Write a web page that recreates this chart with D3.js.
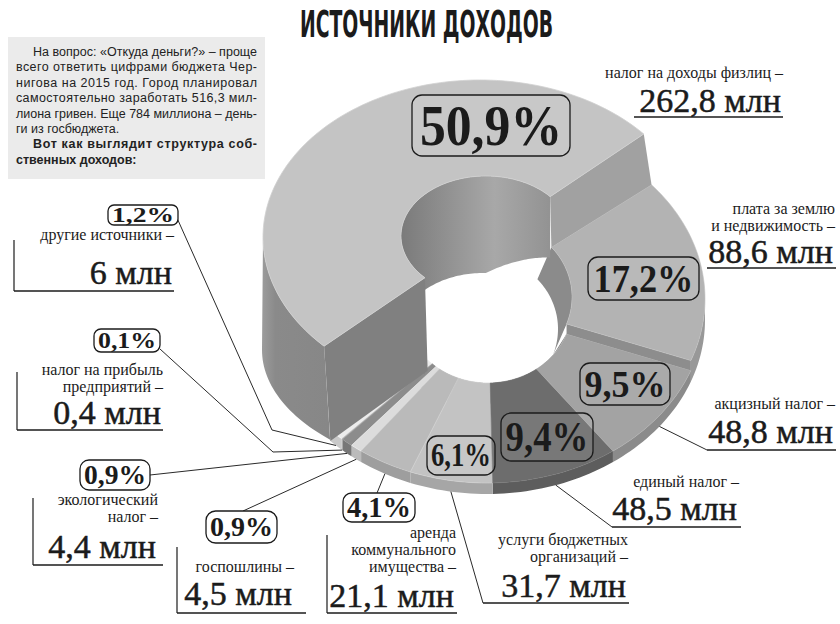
<!DOCTYPE html>
<html>
<head>
<meta charset="utf-8">
<script src="https://cdn.jsdelivr.net/npm/d3@7"></script>
<style>
  body { margin: 0; background: #fff; }
  svg { display: block; }
</style>
</head>
<body>
<svg id="chart" width="840" height="624"></svg>
<script>
// ---- data (clockwise from the upper-right cut of the ring) ----
var categories = ["плата за землю и недвижимость", "акцизный налог", "единый налог", "услуги бюджетных организаций",
    "аренда коммунального имущества", "госпошлины", "экологический налог", "налог на прибыль предприятий",
    "другие источники", "налог на доходы физлиц"];
var captionLines = [["плата за землю", "и недвижимость –"], ["акцизный налог –"], ["единый налог –"],
    ["услуги бюджетных", "организаций –"], ["аренда", "коммунального", "имущества –"], ["госпошлины –"],
    ["экологический", "налог –"], ["налог на прибыль", "предприятий –"], ["другие источники –"],
    ["налог на доходы физлиц –"]];
var revenueMln = [88.6, 48.8, 48.5, 31.7, 21.1, 4.5, 4.4, 0.4, 6, 262.8];
var sharePct = [17.2, 9.5, 9.4, 6.1, 4.1, 0.9, 0.9, 0.1, 1.2, 50.9];
var titleText = "ИСТОЧНИКИ ДОХОДОВ";
var introLines = ["На вопрос: «Откуда деньги?» – проще", "всего ответить цифрами бюджета Чер-",
    "нигова на 2015 год. Город планировал", "самостоятельно заработать 516,3 мил-",
    "лиона гривен. Еще 784 миллиона – день-", "ги из госбюджета.",
    "Вот как выглядит структура соб-", "ственных доходов:"];

// ---- styles / layout ----
var topFill = ["#b3b3b3", "#a3a3a3", "#6d6d6d", "#c3c3c3", "#bababa", "#dcdcdc", "#8c8c8c", "#b0b0b0", "#ececec", "#c4c4c4"];
var sliceLift = [10, 0, 0, 0, 0, 0, 0, 0, 0, 0];
var labelLayout = [
    {box: [588, 257, 111, 43], pct: 40, onSlice: true, right: 835, lines: [214, 231], value: 263, rule: [707, 836, 268]},
    {box: [580, 363, 90, 42], pct: 38, onSlice: true, right: 835, lines: [409], value: 443, rule: [707, 836, 450], lead: [[707, 450]]},
    {box: [501, 413, 92, 48], pct: 42, onSlice: true, right: 739, lines: [487], value: 520, rule: [612, 741, 527], lead: [[612, 527]]},
    {box: [427, 436, 68, 39], pct: 33, onSlice: true, right: 628, lines: [545, 562], value: 597, rule: [483, 629, 603], lead: [[483, 603]]},
    {box: [343, 493, 72, 29], pct: 29, right: 456, lines: [538, 555, 572], value: 607, rule: [327, 457, 613], bracket: 535, lead: [[377, 493]]},
    {box: [206, 511, 71, 32], pct: 27, right: 294, lines: [572], value: 605, rule: [177, 306, 613], bracket: 547, lead: [[243, 511]]},
    {box: [80, 460, 70, 30], pct: 27, right: 158, lines: [505, 522], value: 558, rule: [33, 163, 565], bracket: 498, lead: [[150, 475]]},
    {box: [94, 329, 66, 23], pct: 24, right: 163, lines: [375, 392], value: 424, rule: [17, 163, 430], bracket: 372, lead: [[160, 349], [273, 452]]},
    {box: [108, 205, 70, 20], pct: 21, right: 174, lines: [240], value: 284, rule: [14, 174, 291], bracket: 240, lead: [[177, 218], [272, 430]]},
    {box: [412, 95, 158, 61], pct: 58, onSlice: true, right: 783, lines: [78], value: 112, rule: [634, 783, 117]}
];

// projected ellipses of the ring edges
var outerTop = {cx: 487, cy: 309, rx: 218, ry: 174};
var innerTop = {cx: 488, cy: 307, rx: 84, ry: 76};
var outerLift = {cx: 480, cy: 237, rx: 217, ry: 157};
var innerLift = {cx: 486, cy: 236, rx: 85, ry: 60};
var outerFoot = {cx: 504, cy: 350, rx: 242, ry: 129};
var ringDepth = 11;

var serifFace = "Liberation Serif, DejaVu Serif, Noto Serif, Times New Roman, Times, serif";
var ink = "#1b1b1b";
var svg = d3.select("#chart");
var defs = svg.append("defs");

var ru = d3.formatLocale({decimal: ",", thousands: " ", grouping: [3], currency: ["", ""]});
var fmtValue = ru.format(".1~f");
var fmtPct = ru.format(".1f");

// ---- title and intro box ----
svg.append("text")
    .attr("x", 300).attr("y", 37)
    .attr("textLength", 253).attr("lengthAdjust", "spacingAndGlyphs")
    .attr("font-family", "Liberation Sans Narrow, DejaVu Sans Condensed, sans-serif")
    .attr("font-weight", "bold").attr("font-size", 37).attr("fill", ink)
    .text(titleText);

svg.append("rect").attr("x", 8).attr("y", 37).attr("width", 257).attr("height", 142).attr("fill", "#ebebeb");

svg.append("g").selectAll("text")
    .data(introLines)
    .enter().append("text")
    .attr("x", function (d, i) { return (i === 0 || i === 6) ? 33 : 16; })
    .attr("y", function (d, i) { return 56 + i * 15.4; })
    .attr("textLength", function (d, i) {
        if (i === 5 || i === 7) { return null; }
        return (i === 0 || i === 6) ? 224 : 241;
    })
    .attr("lengthAdjust", "spacing")
    .attr("font-family", "Liberation Sans, Arial, sans-serif")
    .attr("font-size", 12.5)
    .attr("font-weight", function (d, i) { return i >= 6 ? "bold" : "normal"; })
    .attr("fill", "#222")
    .text(function (d) { return d; });

// ---- geometry helpers ----
var pie = d3.pie().sort(null).value(function (d) { return d; })
    .startAngle(49 * Math.PI / 180).endAngle(49 * Math.PI / 180 + 2 * Math.PI);
var slices = pie(revenueMln);
var deg = Math.PI / 180;

// d3 angles are measured from 12 o'clock, screen angles from 3 o'clock
function scr(a) { return a - Math.PI / 2; }

function pt(e, t, dx, dy) {
    return [e.cx + e.rx * Math.cos(t) + (dx || 0), e.cy + e.ry * Math.sin(t) + (dy || 0)];
}

function arcPts(e, t0, t1, dx, dy) {
    var n = Math.max(2, Math.ceil(Math.abs(t1 - t0) / (1.5 * deg)));
    return d3.range(n + 1).map(function (k) {
        var t = t0 + (t1 - t0) * k / n;
        var off = typeof dy === "function" ? dy(t) : dy;
        return pt(e, t, dx, off);
    });
}

var poly = d3.line().curve(d3.curveLinearClosed);
var layerRing = svg.append("g");

// lower ring: inner walls, outer walls, then top faces
slices.slice(0, 9).forEach(function (s, i) {
    var t0 = scr(s.startAngle), t1 = scr(s.endAngle), L = -sliceLift[i];
    var pts = arcPts(innerTop, t0, t1, 0, L).concat(arcPts(innerTop, t1, t0, -14, 22));
    layerRing.append("path").attr("d", poly(pts))
        .attr("fill", d3.color(topFill[i]).darker(0.7)).attr("stroke", "none");
});

slices.slice(0, 9).forEach(function (s, i) {
    var t0 = Math.max(scr(s.startAngle), 0), t1 = Math.min(scr(s.endAngle), Math.PI), L = -sliceLift[i];
    if (t1 <= t0) { return; }
    var pts = arcPts(outerTop, t0, t1, 0, L).concat(arcPts(outerTop, t1, t0, 0, ringDepth));
    layerRing.append("path").attr("d", poly(pts))
        .attr("fill", d3.color(topFill[i]).darker(0.45)).attr("stroke", "none");
});

[8, 7, 6, 5, 4, 3, 2, 1, 0].forEach(function (i) {
    var s = slices[i], t0 = scr(s.startAngle), t1 = scr(s.endAngle), L = -sliceLift[i];
    if (L !== 0) {
        // end face of the raised slice
        var face = [pt(outerTop, t1, 0, L), pt(innerTop, t1, 0, L), pt(innerTop, t1), pt(outerTop, t1)];
        layerRing.append("path").attr("d", poly(face)).attr("fill", "#8d8d8d");
    }
    var top = arcPts(outerTop, t0, t1, 0, L).concat(arcPts(innerTop, t1, t0, 0, L));
    layerRing.append("path").attr("d", poly(top))
        .attr("fill", topFill[i]).attr("stroke", d3.color(topFill[i]).brighter(0.2)).attr("stroke-width", 0.6);
});

// ---- the raised 50,9% slice ----
var big = slices[9];
var b0 = scr(big.startAngle), b1 = scr(big.endAngle);

var gWall = defs.append("linearGradient").attr("id", "wallGrad")
    .attr("gradientUnits", "userSpaceOnUse").attr("x1", 262).attr("x2", 430).attr("y1", 0).attr("y2", 0);
gWall.append("stop").attr("offset", 0).attr("stop-color", "#9c9c9c");
gWall.append("stop").attr("offset", 0.08).attr("stop-color", "#8a8a8a");
gWall.append("stop").attr("offset", 1).attr("stop-color", "#818181");

var gInner = defs.append("linearGradient").attr("id", "innerGrad")
    .attr("gradientUnits", "userSpaceOnUse").attr("x1", 400).attr("x2", 572).attr("y1", 0).attr("y2", 0);
gInner.append("stop").attr("offset", 0).attr("stop-color", "#7a7a7a");
gInner.append("stop").attr("offset", 0.55).attr("stop-color", "#a8a8a8");
gInner.append("stop").attr("offset", 1).attr("stop-color", "#8a8a8a");

var innerDrop = d3.scaleLinear().domain([b0, 200 * deg, 270 * deg, b1]).range([97, 95, 97, 61]);
var layerBig = svg.append("g");

var wall = arcPts(outerLift, b0, Math.PI, 0, 0).concat(arcPts(outerFoot, Math.PI, b0, 0, 0));
layerBig.append("path").attr("d", poly(wall)).attr("fill", "url(#wallGrad)");

var innerWall = arcPts(innerLift, b0, b1, 0, 0).concat(arcPts(innerLift, b1, b0, 0, innerDrop));
layerBig.append("path").attr("d", poly(innerWall)).attr("fill", "url(#innerGrad)");

var cutLow = [pt(outerLift, b0), pt(innerLift, b0), pt(innerTop, b0, 0, ringDepth), pt(outerTop, b0, 0, ringDepth)];
layerBig.append("path").attr("d", poly(cutLow)).attr("fill", "#808080");

var cutHigh = [pt(outerLift, b1), pt(innerLift, b1), pt(innerTop, b1, 0, -sliceLift[0]), pt(outerTop, b1, 0, -sliceLift[0])];
layerBig.append("path").attr("d", poly(cutHigh)).attr("fill", "#a1a1a1");

var bigTop = arcPts(outerLift, b0, b1, 0, 0).concat(arcPts(innerLift, b1, b0, 0, 0));
layerBig.append("path").attr("d", poly(bigTop))
    .attr("fill", topFill[9]).attr("stroke", "#d0d0d0").attr("stroke-width", 0.8);

// ---- labels ----
var layerLabels = svg.append("g");

labelLayout.forEach(function (lay, i) {
    var s = slices[i];
    var mid = scr((s.startAngle + s.endAngle) / 2);

    if (lay.lead) {
        var end = pt(outerTop, mid, 0, ringDepth);
        layerLabels.append("path")
            .attr("d", d3.line()(lay.lead.concat([end])))
            .attr("fill", "none").attr("stroke", "#2a2a2a").attr("stroke-width", 1);
    }

    var r = lay.rule;
    layerLabels.append("line").attr("x1", r[0]).attr("x2", r[1]).attr("y1", r[2]).attr("y2", r[2])
        .attr("stroke", ink).attr("stroke-width", 1.4);
    if (lay.bracket) {
        layerLabels.append("line").attr("x1", r[0]).attr("x2", r[0]).attr("y1", lay.bracket).attr("y2", r[2])
            .attr("stroke", ink).attr("stroke-width", 1.2);
    }

    var cap = layerLabels.append("text")
        .attr("text-anchor", "end")
        .attr("font-family", serifFace)
        .attr("font-size", 16).attr("fill", ink);
    captionLines[i].forEach(function (line, k) {
        cap.append("tspan").attr("x", lay.right).attr("y", lay.lines[k]).text(line);
    });

    layerLabels.append("text")
        .attr("x", lay.right - 2).attr("y", lay.value)
        .attr("text-anchor", "end")
        .attr("font-family", serifFace)
        .attr("font-size", 34).attr("fill", ink)
        .attr("stroke", ink).attr("stroke-width", 0.5)
        .text(fmtValue(revenueMln[i]) + " млн");

    var b = lay.box;
    layerLabels.append("rect")
        .attr("x", b[0]).attr("y", b[1]).attr("width", b[2]).attr("height", b[3])
        .attr("rx", Math.min(10, b[3] * 0.3))
        .attr("fill", lay.onSlice ? "rgba(255,255,255,0.08)" : "#fff")
        .attr("stroke", ink).attr("stroke-width", 1.3);
    layerLabels.append("text")
        .attr("x", b[0] + b[2] / 2).attr("y", b[1] + b[3] / 2 + lay.pct * 0.33)
        .attr("text-anchor", "middle")
        .attr("textLength", b[2] - Math.max(8, b[2] * 0.1)).attr("lengthAdjust", "spacingAndGlyphs")
        .attr("font-family", serifFace).attr("font-weight", "bold")
        .attr("font-size", lay.pct).attr("fill", ink)
        .text(fmtPct(sharePct[i]) + "%");
});
</script>
</body>
</html>
